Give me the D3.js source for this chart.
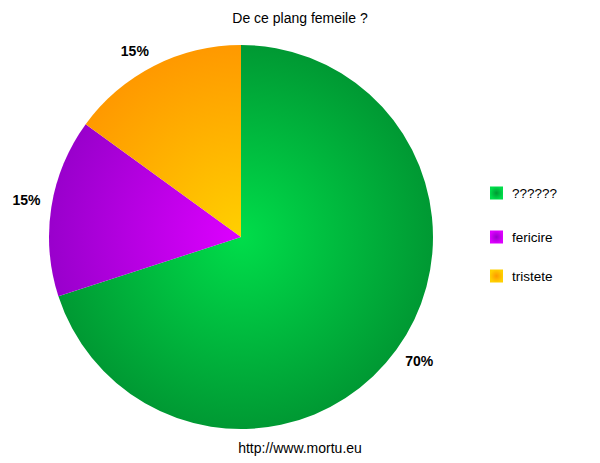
<!DOCTYPE html>
<html>
<head>
<meta charset="utf-8">
<script src="https://cdn.jsdelivr.net/npm/d3@7"></script>
<style>
  body { margin: 0; background: #fff; }
  text { font-family: "Liberation Sans", Arial, sans-serif; }
</style>
</head>
<body>
<svg id="chart" width="600" height="463"></svg>
<script>
const categories = ['??????', 'fericire', 'tristete'];
const values = [70, 15, 15];
const colorsInner = ['#00dd4a', '#dd00ff', '#ffd000'];
const colorsOuter = ['#009933', '#9900cc', '#ff9900'];

const width = 600;
const height = 463;
const cx = 241, cy = 237, radius = 192;

const svg = d3.select('#chart');
const defs = svg.append('defs');

// radial gradients: light at the pie centre, darker at the rim
categories.forEach((c, i) => {
  const g = defs.append('radialGradient')
    .attr('id', 'grad' + i)
    .attr('gradientUnits', 'userSpaceOnUse')
    .attr('cx', 0).attr('cy', 0).attr('r', radius);
  g.append('stop').attr('offset', '0%').attr('stop-color', colorsInner[i]);
  g.append('stop').attr('offset', '100%').attr('stop-color', colorsOuter[i]);

  const lg = defs.append('radialGradient').attr('id', 'lgrad' + i);
  lg.append('stop').attr('offset', '0%').attr('stop-color', colorsOuter[i]);
  lg.append('stop').attr('offset', '100%').attr('stop-color', colorsInner[i]);
});

svg.append('text')
  .attr('x', width / 2).attr('y', 23)
  .attr('text-anchor', 'middle')
  .attr('font-size', 14)
  .text('De ce plang femeile ?');

const pie = d3.pie().sort(null).value(d => d);
const arcs = pie(values);
const arc = d3.arc().innerRadius(0).outerRadius(radius);
const labelArc = d3.arc().innerRadius(203).outerRadius(203);

const g = svg.append('g').attr('transform', `translate(${cx},${cy})`);

g.selectAll('path')
  .data(arcs)
  .enter().append('path')
  .attr('d', arc)
  .attr('fill', (d, i) => `url(#grad${i})`);

// labels sit just outside the rim, pushed out by half their box
g.selectAll('text.pct')
  .data(arcs)
  .enter().append('text')
  .attr('class', 'pct')
  .attr('text-anchor', 'middle')
  .attr('font-size', 14)
  .attr('font-weight', 'bold')
  .text(d => d.value + '%')
  .attr('transform', function(d) {
    const [x, y] = labelArc.centroid(d);
    const w = this.getComputedTextLength();
    const dx = x + Math.sign(x) * w / 2;
    const dy = y + Math.sign(y) * 5;
    return `translate(${dx},${dy + 5})`;
  });

const legendY = d3.scaleOrdinal()
  .domain(categories)
  .range([193, 237, 276]);

const items = svg.append('g').selectAll('g')
  .data(categories)
  .enter().append('g')
  .attr('transform', d => `translate(490,${legendY(d)})`);

items.append('rect')
  .attr('x', 0).attr('y', -6.5)
  .attr('width', 13).attr('height', 13)
  .attr('fill', (d, i) => `url(#lgrad${i})`);

items.append('text')
  .attr('x', 22).attr('y', 5)
  .attr('font-size', 13.5)
  .text(d => d);

svg.append('text')
  .attr('x', width / 2).attr('y', 453)
  .attr('text-anchor', 'middle')
  .attr('font-size', 14)
  .text('http://www.mortu.eu');
</script>
</body>
</html>
